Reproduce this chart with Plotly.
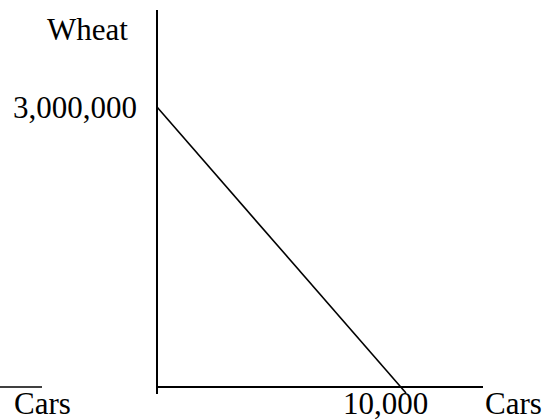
import plotly.graph_objects as go

# Data
cars = [0, 10000]
wheat = [3000000, 0]
y_tick_label = "3,000,000"
x_tick_label = "10,000"
y_title = "Wheat"
x_title = "Cars"

W, H = 548, 420
FONT = dict(family="Liberation Serif, Times New Roman, serif", size=31, color="black")

# pixel mapping: x px 157 -> 0 cars, 406 -> 10000 ; y px 107 -> 3e6, 393 -> 0
x0_px, x1_px = 157, 406
y0_px, y1_px = 393, 107
xs = (cars[1] - cars[0]) / (x1_px - x0_px)
ys = (wheat[0] - wheat[1]) / (y0_px - y1_px)
xrange = [-x0_px * xs, (W - x0_px) * xs]
yrange = [-(H - y0_px) * ys, y0_px * ys]

fig = go.Figure()
fig.add_trace(go.Scatter(x=cars, y=wheat, mode="lines",
                         line=dict(color="black", width=1.6),
                         hoverinfo="skip", showlegend=False))

def px(x):
    return x / W

def py(y):
    return 1 - y / H

shapes = [
    dict(type="line", xref="paper", yref="paper", x0=px(157), x1=px(157), y0=py(10), y1=py(394),
         line=dict(color="black", width=2)),
    dict(type="line", xref="paper", yref="paper", x0=px(157), x1=px(483), y0=py(387), y1=py(387),
         line=dict(color="black", width=2)),
    dict(type="line", xref="paper", yref="paper", x0=px(0), x1=px(42), y0=py(387), y1=py(387),
         line=dict(color="black", width=1.5)),
]

def ann(text, cx, cy):
    return dict(text=text, xref="paper", yref="paper", x=px(cx), y=py(cy),
                xanchor="center", yanchor="middle", showarrow=False, font=FONT)

annotations = [
    ann(y_title, 87, 30),
    ann(y_tick_label, 75, 108),
    ann(x_title, 42, 403),
    ann(x_tick_label, 385, 403),
    ann(x_title, 513, 403),
]

fig.update_layout(
    width=W, height=H,
    margin=dict(l=0, r=0, t=0, b=0),
    paper_bgcolor="white", plot_bgcolor="white",
    xaxis=dict(range=xrange, visible=False, fixedrange=True),
    yaxis=dict(range=yrange, visible=False, fixedrange=True),
    shapes=shapes, annotations=annotations,
)

fig.write_html("out.html", config={"displayModeBar": False},
               post_script="document.body.style.margin='0';document.body.style.overflow='hidden';")
